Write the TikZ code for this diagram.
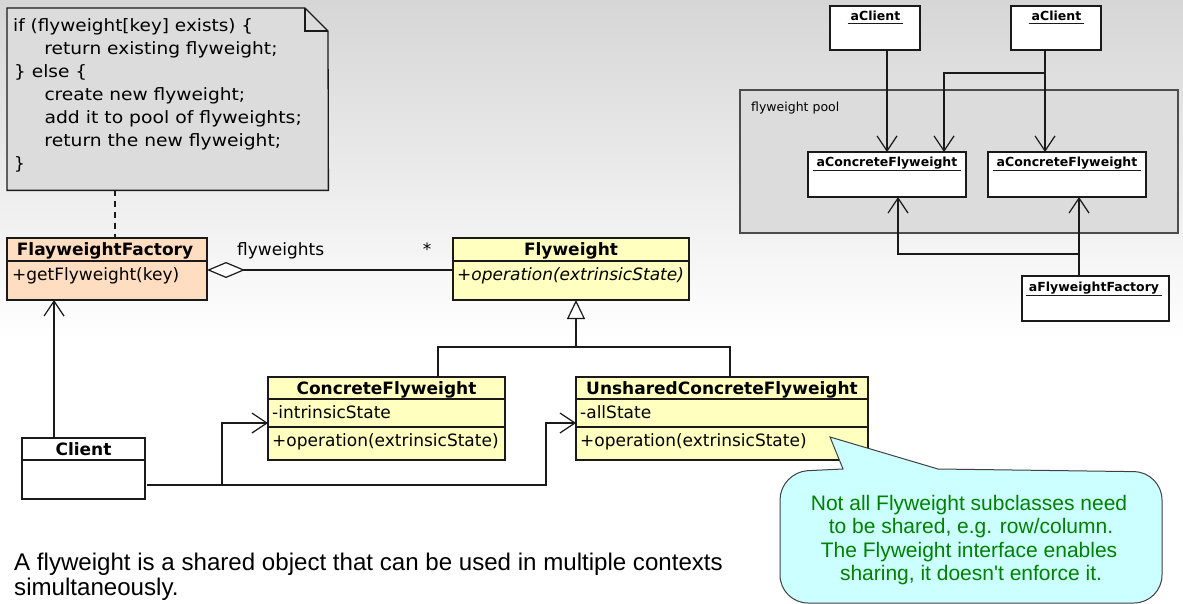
\documentclass[tikz,border=0pt]{standalone}
\usepackage{fontspec}
\setmainfont{DejaVu Sans}
\newfontfamily\arialf{Liberation Sans}
\usetikzlibrary{arrows.meta,calc}
\definecolor{linec}{HTML}{1A1A1A}
\definecolor{notegray}{HTML}{DCDCDC}
\definecolor{peach}{HTML}{FFDDC0}
\definecolor{lyellow}{HTML}{FFFFC0}
\definecolor{lcyan}{HTML}{CCFFFF}
\definecolor{txtgreen}{HTML}{008000}
\definecolor{bgtop}{HTML}{D6D6D6}
\tikzset{
  box/.style={draw=linec, line width=1.3pt, inner sep=0pt, outer sep=0pt, anchor=north west},
  conn/.style={draw=linec, line width=1.3pt},
  openarrow/.style={conn, -{Straight Barb[length=15pt,width=20pt,line width=1.2pt]}},
  inherit/.style={conn, -{Triangle[open,length=19pt,width=18pt,fill=white,line width=1.2pt]}},
  aggr/.style={conn, {Diamond[open,length=38pt,width=16pt,fill=white,line width=1.2pt]}-},
  ctitle/.style={font=\fontsize{17}{20}\selectfont\bfseries, inner sep=0pt, anchor=base},
  cmember/.style={font=\fontsize{17}{20}\selectfont, inner sep=0pt, anchor=base west},
  notetext/.style={font=\fontsize{17}{20}\selectfont, inner sep=0pt, anchor=base west},
  objlabel/.style={font=\fontsize{12.5}{15}\selectfont\bfseries, inner ysep=0pt, inner xsep=3pt, anchor=base},
  uline/.style={draw=linec, line width=1pt},
  callouttext/.style={font=\arialf\fontsize{21}{24}\selectfont, text=txtgreen, inner sep=0pt, anchor=base},
  desctext/.style={font=\arialf\fontsize{24.1}{26}\selectfont, inner sep=0pt, anchor=base west},
}
\begin{document}
\begin{tikzpicture}[x=1pt,y=-1pt]
\useasboundingbox (0,0) rectangle (1183,604);
% background
\shade[top color=bgtop, bottom color=white] (0,0) rectangle (1183,340);
\fill[white] (0,340) rectangle (1183,604);

% ---------- note ----------
\node[inner sep=0pt, minimum width=321pt, minimum height=182pt, anchor=north west] (note) at (7,8) {};
\filldraw[draw=linec, fill=notegray, line width=1.3pt] (note.north west) -- ++(298,0) -- ++(23,23) -- (note.south east) -- (note.south west) -- cycle;
\draw[draw=linec, line width=1.3pt] ($(note.north west)+(298,0)$) -- ++(0,23) -- ++(23,0);
\node[notetext] (n1) at (13,31.5) {\resizebox{240pt}{\height}{if (flyweight[key] exists) \{}};
\node[notetext] (n2) at (44.3,54.5) {\resizebox{233pt}{\height}{return existing flyweight;}};
\node[notetext] (n3) at (14,77.5) {\resizebox{73pt}{\height}{\} else \{}};
\node[notetext] (n4) at (44.3,100.5) {\resizebox{200.7pt}{\height}{create new flyweight;}};
\node[notetext] (n5) at (44.3,123.5) {\resizebox{257.3pt}{\height}{add it to pool of flyweights;}};
\node[notetext] (n6) at (44.3,146.5) {\resizebox{236.7pt}{\height}{return the new flyweight;}};
\node[notetext] (n7) at (14,169.5) {\}};

% ---------- FlayweightFactory ----------
\node[box, fill=peach, minimum width=200pt, minimum height=62pt] (ff) at (7,238) {};
\draw[conn] (7,261) -- (207,261);
\node[ctitle] (ffT) at (105,255.5) {FlayweightFactory};
\node[cmember] (ffM) at (12,280.5) {+getFlyweight(key)};

% ---------- Flyweight ----------
\node[box, fill=lyellow, minimum width=236pt, minimum height=62pt] (fw) at (453,238) {};
\draw[conn] (453,261) -- (689,261);
\node[ctitle] (fwT) at (571,255.5) {Flyweight};
\node[cmember] (fwM) at (457,280.5) {\itshape +operation(extrinsicState)};

% ---------- ConcreteFlyweight ----------
\node[box, fill=lyellow, minimum width=237pt, minimum height=83pt] (cf) at (268,377) {};
\draw[conn] (268,399) -- (505,399);
\draw[conn] (268,427) -- (505,427);
\node[ctitle] (cfT) at (386.5,394) {ConcreteFlyweight};
\node[cmember] (cfA) at (272,418.5) {-intrinsicState};
\node[cmember] (cfM) at (272,446) {+operation(extrinsicState)};

% ---------- UnsharedConcreteFlyweight ----------
\node[box, fill=lyellow, minimum width=292pt, minimum height=83pt] (uc) at (576,377) {};
\draw[conn] (576,399) -- (868,399);
\draw[conn] (576,427) -- (868,427);
\node[ctitle] (ucT) at (722,394) {UnsharedConcreteFlyweight};
\node[cmember] (ucA) at (580,418.5) {-allState};
\node[cmember] (ucM) at (580,446) {+operation(extrinsicState)};

% ---------- Client ----------
\node[box, fill=white, minimum width=123pt, minimum height=61pt] (cl) at (22,438) {};
\draw[conn] (22,460) -- (145,460);
\node[ctitle] (clT) at (83.5,455.5) {Client};

% ---------- class connectors ----------
\coordinate (dn) at (115,190);
\draw[conn, dashed, dash pattern=on 6pt off 5pt] (dn) -- (dn |- ff.north);
\draw[aggr] (ff.east |- 0,270) -- (fw.west |- 0,270);
\node[font=\fontsize{17}{20}\selectfont, inner sep=0pt, anchor=base west] (lblfw) at (237,255.5) {flyweights};
\node[font=\fontsize{17}{20}\selectfont, inner sep=0pt, anchor=base] (lblstar) at (427,255.5) {*};

\coordinate (inhTop) at (576,300);
\coordinate (inhJ) at (576,347);
\coordinate (cfTop) at (438,377);
\coordinate (ucTop) at (730,377);
\draw[conn] (cfTop) |- (inhJ);
\draw[conn] (ucTop) |- (inhJ);
\draw[inherit] (inhJ) -- (inhTop);

\coordinate (clTop) at (54,438);
\draw[openarrow] (clTop) -- (clTop |- ff.south);
\coordinate (clOut) at (147,485);
\coordinate (b1) at (222,485);
\coordinate (b2) at (546,485);
\draw[openarrow] (clOut) -- (b1) |- (cf.west |- 0,423);
\draw[openarrow] (clOut) -- (b2) |- (uc.west |- 0,423);

% ---------- object diagram ----------
\node[box, fill=notegray, draw=black!70, minimum width=438pt, minimum height=143pt] (pool) at (740,90) {};
\node[font=\fontsize{12.5}{15}\selectfont, inner sep=0pt, anchor=base west] (poolL) at (751,112) {flyweight pool};

\node[box, fill=white, minimum width=90pt, minimum height=44pt] (ac1) at (830,6) {};
\node[objlabel] (ac1L) at (875.5,21) {aClient};
\draw[uline] ([yshift=-3pt]ac1L.base west) -- ([yshift=-3pt]ac1L.base east);
\node[box, fill=white, minimum width=90pt, minimum height=44pt] (ac2) at (1011,6) {};
\node[objlabel] (ac2L) at (1056.5,21) {aClient};
\draw[uline] ([yshift=-3pt]ac2L.base west) -- ([yshift=-3pt]ac2L.base east);

\node[box, fill=white, minimum width=158pt, minimum height=45pt] (acf1) at (808,152) {};
\node[objlabel] (acf1L) at (887,167) {aConcreteFlyweight};
\draw[uline] ([yshift=-4pt]acf1L.base west) -- ([yshift=-4pt]acf1L.base east);
\node[box, fill=white, minimum width=158pt, minimum height=45pt] (acf2) at (988,152) {};
\node[objlabel] (acf2L) at (1067,167) {aConcreteFlyweight};
\draw[uline] ([yshift=-4pt]acf2L.base west) -- ([yshift=-4pt]acf2L.base east);

\node[box, fill=white, minimum width=147pt, minimum height=45pt] (afw) at (1022,276) {};
\node[objlabel] (afwL) at (1094,291.5) {aFlyweightFactory};
\draw[uline] ([yshift=-4pt]afwL.base west) -- ([yshift=-4pt]afwL.base east);

\coordinate (a1s) at (887,50);
\draw[openarrow] (a1s) -- (a1s |- acf1.north);
\coordinate (a2s) at (1045,50);
\draw[openarrow] (a2s) -- (a2s |- acf2.north);
\coordinate (a2j) at (1045,73);
\coordinate (a2t) at (944,152);
\draw[openarrow] (a2j) -| (a2t);
\coordinate (fs) at (1079,276);
\draw[openarrow] (fs) -- (fs |- acf2.south);
\coordinate (fj) at (1079,254);
\coordinate (ft) at (898,197);
\draw[openarrow] (fj) -| (ft);

% ---------- callout ----------
\filldraw[draw=black!75, fill=lcyan, line width=1pt]
  (830,437) -- (938,469) [rounded corners=28pt] -- (1162,472) -- (1162,603) -- (780,603) -- (780,472) [sharp corners] -- (843,469) -- cycle;
\node[callouttext] (c1) at (969,510) {Not all Flyweight subclasses need};
\node[callouttext] (c2) at (971,533.5) {to be shared, e.g. row/column.};
\node[callouttext] (c3) at (969,557) {The Flyweight interface enables};
\node[callouttext] (c4) at (971,580.5) {sharing, it doesn't enforce it.};

% ---------- bottom text ----------
\node[desctext] (d1) at (14,570) {A flyweight is a shared object that can be used in multiple contexts};
\node[desctext] (d2) at (14,595.5) {simultaneously.};
\end{tikzpicture}
\end{document}
